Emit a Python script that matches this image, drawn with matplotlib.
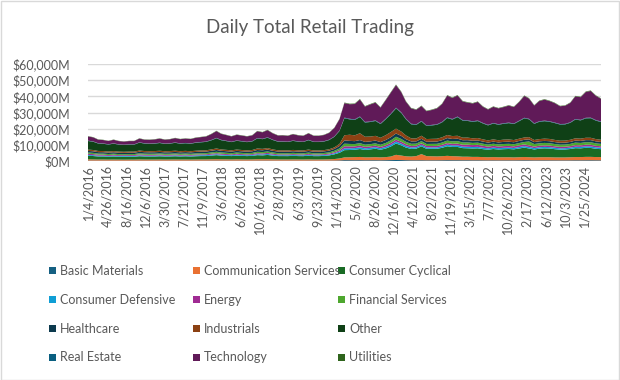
import matplotlib
matplotlib.use("Agg")
import matplotlib.pyplot as plt
import matplotlib.dates as mdates
from matplotlib.patches import Rectangle
import pandas as pd
import numpy as np

# ---------------- data (monthly, $M, Jan 2016 .. May 2024) ----------------
months = pd.date_range("2016-01-01", "2024-05-01", freq="MS")

basic_materials = [
    280,270,250,260,240,250,240,230,240,240,270,250,
    240,250,260,240,250,250,240,250,240,260,250,260,
    280,300,270,260,250,260,250,240,250,290,280,300,
    270,250,250,240,260,250,240,270,240,240,250,270,
    300,380,520,500,480,500,460,470,480,450,500,560,
    620,580,500,450,440,460,420,430,440,460,500,480,
    480,460,470,440,450,420,400,420,400,410,420,410,
    440,460,450,410,420,430,420,410,400,400,410,440,
    430,450,460,440,420]
communication_services = [
    750,700,650,650,620,640,620,600,620,620,680,650,
    640,650,660,640,650,680,650,660,640,680,700,700,
    760,820,760,740,700,780,720,700,720,820,800,850,
    760,700,700,690,720,700,680,720,680,680,700,760,
    900,1200,1700,1800,1900,2000,1800,1800,1900,1800,1900,2200,
    3200,2800,2400,2300,2600,3800,2600,2500,2400,2500,2700,2500,
    2400,2200,2200,2100,2100,2000,1900,2000,1900,1900,1900,1800,
    1900,2000,1900,1800,1900,1900,1900,1800,1800,1800,1900,2000,
    2000,2100,2100,2000,2000]
consumer_cyclical = [
    2200,2100,1900,1900,1800,1900,1800,1800,1800,1800,2000,1900,
    1900,1900,2000,1900,1900,2000,1900,2000,1900,2000,2100,2100,
    2300,2500,2300,2200,2100,2300,2200,2100,2200,2500,2400,2600,
    2300,2100,2100,2100,2200,2100,2100,2300,2100,2100,2200,2400,
    2900,3500,4500,4500,4600,4900,4600,4900,5200,4700,5300,6200,
    7000,6300,5400,4700,4600,4800,4500,4600,4700,5200,5900,5700,
    5800,5300,5200,5200,5300,4900,4700,5000,4800,5000,5100,5000,
    5400,5800,5400,4900,5300,5500,5400,5100,4800,4900,5100,5500,
    5400,5600,5500,5100,4900]
consumer_defensive = [
    550,530,500,500,480,500,480,470,480,480,520,500,
    490,500,510,490,500,510,490,500,490,510,520,530,
    560,600,560,540,520,550,530,520,530,600,590,620,
    560,520,520,510,530,520,510,550,510,510,520,560,
    650,800,1100,1050,1000,1050,950,950,980,900,1000,1100,
    1200,1100,1000,900,880,920,860,870,880,900,980,960,
    980,930,920,900,900,880,840,860,840,850,860,850,
    900,950,920,860,880,900,880,860,840,840,860,920,
    900,940,950,900,880]
energy = [
    700,680,600,580,540,560,520,500,520,520,580,560,
    540,540,550,520,520,530,510,510,500,520,530,540,
    580,620,580,560,540,570,550,530,540,620,610,640,
    580,540,540,530,550,540,520,560,520,520,530,560,
    650,800,1300,1200,1050,1100,950,950,950,880,1000,1100,
    1200,1150,1050,950,920,950,900,900,920,950,1000,980,
    1100,1150,1300,1200,1250,1200,1050,1100,1050,1050,1050,1000,
    1050,1050,1000,920,950,950,950,930,920,900,920,980,
    950,980,1000,960,920]
financial_services = [
    760,740,680,660,640,660,630,620,640,640,720,690,
    680,690,700,680,690,710,690,700,690,710,730,740,
    800,860,800,770,740,780,760,740,760,860,840,890,
    800,750,750,740,770,750,740,790,740,740,760,800,
    900,1100,1600,1500,1450,1500,1350,1350,1400,1300,1450,1600,
    1800,1700,1500,1350,1300,1350,1250,1300,1300,1400,1550,1500,
    1550,1400,1400,1350,1350,1300,1250,1300,1250,1300,1300,1300,
    1400,1500,2400,1600,1500,1500,1450,1400,1350,1350,1400,1550,
    1500,1550,1600,1500,1450]
healthcare = [
    1000,980,900,880,850,880,840,820,840,840,930,890,
    880,890,910,880,890,920,890,900,890,920,950,960,
    1040,1120,1040,1000,960,1010,990,960,990,1120,1090,1150,
    1040,970,970,960,1000,970,960,1030,960,960,980,1040,
    1150,1500,2000,1900,1800,1900,1700,1700,1750,1650,1800,1900,
    2000,1900,1650,1450,1400,1450,1350,1400,1400,1450,1550,1500,
    1500,1400,1400,1350,1350,1300,1250,1300,1250,1300,1300,1250,
    1300,1350,1300,1200,1250,1250,1250,1200,1150,1150,1200,1250,
    1250,1300,1300,1250,1200]
industrials = [
    820,800,740,720,700,720,690,680,690,690,760,730,
    720,730,740,720,730,750,730,740,730,750,770,780,
    850,920,850,820,790,830,810,790,810,920,900,950,
    860,800,800,790,820,800,790,840,790,790,800,860,
    950,1300,3200,3800,3600,4200,3200,3000,2900,2700,3000,3200,
    3000,2700,2300,1900,1800,1900,1700,1700,1750,1800,1900,1800,
    1800,1600,1600,1500,1500,1400,1350,1400,1350,1400,1400,1350,
    1400,1450,1400,1300,1350,1400,1400,1350,1300,1300,1350,1400,
    1400,1450,1450,1400,1350]
other = [
    5300,5100,4600,4500,4300,4600,4300,4200,4300,4300,4900,4600,
    4500,4600,4800,4500,4600,4900,4600,4700,4600,4900,5000,5200,
    5600,6300,5700,5400,5100,5400,5300,5100,5300,6200,6000,6400,
    5800,5300,5300,5200,5600,5300,5200,5800,5200,5200,5300,5700,
    6500,8000,10500,9500,9500,10000,8800,9000,9200,8500,9800,11000,
    12500,11500,10000,8700,8400,8800,8100,8300,8600,9200,10500,10200,
    11500,10500,10300,10200,10500,9800,9300,9800,9600,9800,10100,9900,
    10800,11800,11000,10000,10700,10800,10600,10400,10000,10000,10500,11600,
    11300,12000,12100,11400,11000]
real_estate = [
    220,210,200,200,190,200,190,180,190,190,210,200,
    200,200,210,200,200,210,200,200,200,210,210,220,
    230,250,230,220,210,220,220,210,220,250,240,260,
    230,220,220,210,220,220,210,230,210,210,220,230,
    260,300,400,380,370,380,350,350,360,340,370,400,
    430,410,380,350,340,350,330,340,340,350,370,360,
    370,350,350,340,340,330,320,330,320,330,330,320,
    340,360,350,320,330,340,330,330,320,320,330,350,
    340,350,360,350,340]
technology = [
    2600,2500,2200,2100,2000,2200,2000,1900,2000,2000,2300,2200,
    2300,2400,2500,2400,2500,2700,2600,2700,2700,2900,3000,3100,
    3600,4200,3700,3500,3300,3500,3400,3300,3500,4200,4000,4400,
    3900,3600,3700,3600,3900,3700,3600,4000,3600,3600,3800,4200,
    5200,7000,9000,9000,9500,10500,9500,10500,11000,9800,11500,13000,
    14000,12500,10500,9500,9000,9200,8800,9200,9800,11000,13500,13000,
    13000,11500,11000,11000,11500,10000,9500,10000,9800,10000,10500,10200,
    11500,13500,12500,11000,12500,13000,12500,12000,11000,11200,12000,14000,
    14000,16000,16500,15000,14000]
utilities = [
    190,180,170,170,160,170,160,160,160,160,180,170,
    170,170,180,170,170,180,170,170,170,180,180,190,
    200,220,200,190,180,190,190,180,190,220,210,230,
    200,190,190,180,190,190,180,200,180,180,190,200,
    220,260,340,330,320,330,300,300,310,290,320,340,
    360,340,320,300,290,300,280,290,290,300,320,310,
    320,300,300,290,290,280,270,280,270,280,280,270,
    290,310,300,280,290,290,290,280,270,270,280,300,
    300,310,310,300,290]

sector_names = ["Basic Materials", "Communication Services", "Consumer Cyclical",
                "Consumer Defensive", "Energy", "Financial Services",
                "Healthcare", "Industrials", "Other",
                "Real Estate", "Technology", "Utilities"]
sector_values = [basic_materials, communication_services, consumer_cyclical,
                 consumer_defensive, energy, financial_services,
                 healthcare, industrials, other,
                 real_estate, technology, utilities]
sector_colors = ["#156082", "#E97132", "#196B24", "#0F9ED5", "#A02B93", "#4EA72E",
                 "#0C3A4E", "#8C4113", "#0F4016", "#095F80", "#601A58", "#2F641C"]

tick_labels = ["1/4/2016", "4/26/2016", "8/16/2016", "12/6/2016", "3/30/2017",
               "7/21/2017", "11/9/2017", "3/6/2018", "6/26/2018", "10/16/2018",
               "2/8/2019", "6/3/2019", "9/23/2019", "1/14/2020", "5/6/2020",
               "8/26/2020", "12/16/2020", "4/12/2021", "8/2/2021", "11/19/2021",
               "3/15/2022", "7/7/2022", "10/26/2022", "2/17/2023", "6/12/2023",
               "10/3/2023", "1/25/2024"]
y_ticks = [0, 10000, 20000, 30000, 40000, 50000, 60000]

# ---------------- figure ----------------
FONT = ["Lato", "DejaVu Sans"]
TXT = "#595959"
plt.rcParams["font.family"] = FONT

W, H = 620, 380
fig = plt.figure(figsize=(W / 100, H / 100), dpi=100)
fig.patch.set_facecolor("white")
fig.add_artist(Rectangle((0.5 / W, 0.5 / H), 1 - 1.5 / W, 1 - 1.5 / H,
                         transform=fig.transFigure, fill=False,
                         edgecolor="#D9D9D9", linewidth=1.0))

ax = fig.add_axes([88 / W, 1 - 161 / H, 513 / W, 97 / H])
ax.stackplot(months, *[np.array(v, dtype=float) for v in sector_values],
             colors=sector_colors, linewidth=0)

ax.set_ylim(0, 60000)
ax.set_yticks(y_ticks)
ax.set_yticklabels([f"${v:,.0f}M" for v in y_ticks])
ax.yaxis.grid(True, color="#D9D9D9", linewidth=1.0)
ax.set_axisbelow(True)

tick_dates = pd.to_datetime(tick_labels, format="%m/%d/%Y")
ax.set_xticks(tick_dates)
ax.set_xticklabels(tick_labels, rotation=90)
ax.set_xlim(pd.Timestamp("2016-01-01"), pd.Timestamp("2024-05-01"))

for s in ax.spines.values():
    s.set_visible(False)
ax.tick_params(axis="both", length=0, labelcolor=TXT, labelsize=9)
ax.tick_params(axis="y", pad=13)
ax.tick_params(axis="x", pad=3)

fig.text(0.5, 1 - 33 / H, "Daily Total Retail Trading", ha="center",
         va="baseline", fontsize=13.5, color=TXT)

# legend (Excel-style, row-major, 3 columns)
col_x = [49, 193, 338]
row_y = [270.7, 299.7, 328.7, 357.3]
sq = 7.3
for i, (name, col) in enumerate(zip(sector_names, sector_colors)):
    r, c = divmod(i, 3)
    x0 = col_x[c]
    yc = row_y[r]
    fig.add_artist(Rectangle((x0 / W, 1 - (yc + sq / 2) / H), sq / W, sq / H,
                             transform=fig.transFigure, facecolor=col,
                             edgecolor="none"))
    fig.text((x0 + 11) / W, 1 - yc / H, name, ha="left", va="center",
             fontsize=9, color=TXT)

fig.savefig("out.png", dpi=100, facecolor="white")
